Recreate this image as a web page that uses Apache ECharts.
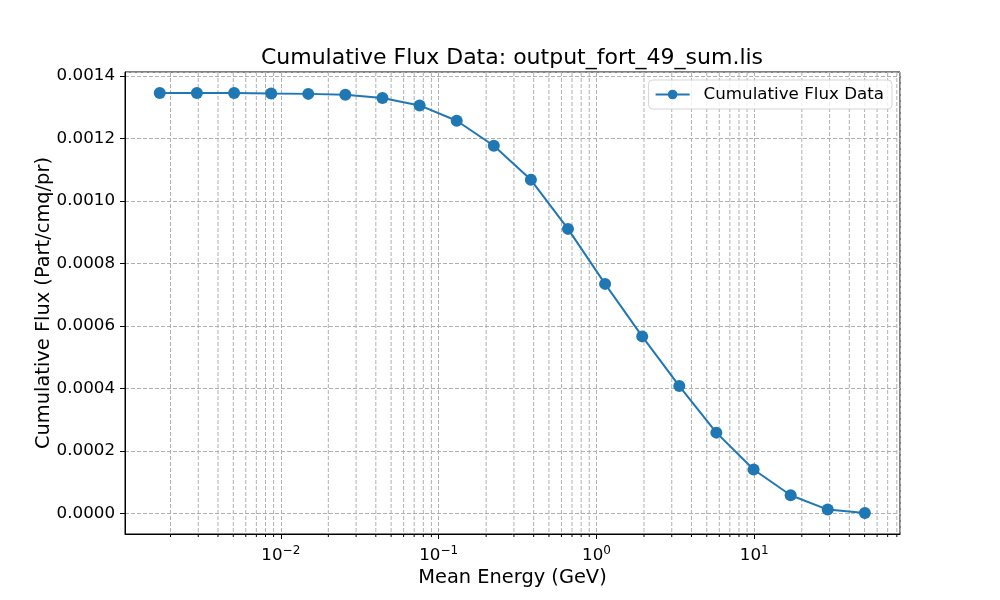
<!DOCTYPE html>
<html>
<head>
<meta charset="utf-8">
<script src="https://cdn.jsdelivr.net/npm/echarts@6/dist/echarts.min.js"></script>
<style>
  html, body { margin: 0; padding: 0; background: #fff; }
  #chart { width: 1000px; height: 600px; }
</style>
</head>
<body>
<div id="chart"></div>
<script>
// mean energy of each bin (GeV)
const energy = [0.00171, 0.00294, 0.00506, 0.00869, 0.01493, 0.02564, 0.04405, 0.0758,
  0.1302, 0.2237, 0.3843, 0.660, 1.134, 1.949, 3.35, 5.75, 9.90, 17.0, 29.2, 50.2];
// cumulative flux (Part/cmq/pr)
const flux = [0.001346, 0.001346, 0.001346, 0.001344, 0.001343, 0.001340, 0.001330, 0.001306,
  0.001257, 0.001177, 0.001068, 0.000911, 0.000735, 0.000567, 0.000408, 0.000259,
  0.000141, 0.0000585, 0.0000128, 0.0000018];

const decades = [0.001, 0.01, 0.1, 1, 10];
const minorSteps = [2, 3, 4, 5, 6, 7, 8, 9];

const xMin = 0.00103, xMax = 83.8;
const yMin = -0.0000654, yMax = 0.001413;

const minorTicks = [];
decades.forEach(d => minorSteps.forEach(m => {
  const v = d * m;
  if (v > xMin && v < xMax) minorTicks.push([v, 0]);
}));

const FONT = 'DejaVu Sans';
const gridColor = '#b0b0b0';

const chart = echarts.init(document.getElementById('chart'));

const supStr = n => String(n).replace('-', '\u2212');

const option = {
  backgroundColor: '#fff',
  animation: false,
  textStyle: { fontFamily: FONT },
  title: {
    text: 'Cumulative Flux Data: output_fort_49_sum.lis',
    left: 512,
    textAlign: 'center',
    top: 47,
    padding: 0,
    textStyle: { fontFamily: FONT, fontSize: 22, fontWeight: 'normal', color: '#000' }
  },
  legend: {
    data: ['Cumulative Flux Data'],
    right: 108,
    top: 80,
    padding: [6, 8, 6, 6],
    itemWidth: 34,
    itemHeight: 12,
    backgroundColor: 'rgba(255,255,255,0.8)',
    borderColor: '#d5d5d5',
    borderWidth: 1,
    borderRadius: 4,
    textStyle: { fontFamily: FONT, fontSize: 16.7, color: '#000', padding: [0, 0, 0, 9] }
  },
  grid: {
    left: 125, right: 100, top: 72, bottom: 66,
    containLabel: false,
    outerBoundsMode: 'none',
    show: true, borderColor: '#000', borderWidth: 1, backgroundColor: 'transparent'
  },
  xAxis: {
    type: 'log',
    logBase: 10,
    min: xMin,
    max: xMax,
    name: 'Mean Energy (GeV)',
    nameLocation: 'middle',
    nameGap: 34,
    nameTextStyle: { fontFamily: FONT, fontSize: 19.4, color: '#000' },
    axisLine: { onZero: false, lineStyle: { color: '#000', width: 1 } },
    axisTick: { inside: false, length: 5, lineStyle: { color: '#000' } },
    axisLabel: {
      showMinLabel: false,
      showMaxLabel: false,
      color: '#000',
      margin: 11,
      formatter: v => '10{sup|' + supStr(Math.round(Math.log10(v))) + '}',
      rich: {
        sup: { fontFamily: FONT, fontSize: 12, padding: [0, 0, 9, 0], color: '#000' }
      },
      fontSize: 16.7,
      fontFamily: FONT
    },
    splitLine: { show: true, lineStyle: { color: gridColor, width: 1, type: [4, 2] } },
    minorTick: { show: false },
    minorSplitLine: { show: false }
  },
  yAxis: {
    type: 'value',
    min: yMin,
    max: yMax,
    splitNumber: 7,
    name: 'Cumulative Flux (Part/cmq/pr)',
    nameLocation: 'middle',
    nameGap: 72,
    nameMoveOverlap: false,
    nameTextStyle: { fontFamily: FONT, fontSize: 19.4, color: '#000' },
    axisLine: { show: true, onZero: false, lineStyle: { color: '#000', width: 1 } },
    axisTick: { show: true, length: 5, lineStyle: { color: '#000' } },
    axisLabel: {
      showMinLabel: false,
      showMaxLabel: false,
      color: '#000',
      fontFamily: FONT,
      fontSize: 16.7,
      margin: 10,
      formatter: v => v.toFixed(4)
    },
    splitLine: { show: true, lineStyle: { color: gridColor, width: 1, type: [4, 2] } }
  },
  series: [
    {
      name: 'minor',
      type: 'custom',
      silent: true,
      z: 1,
      data: minorTicks,
      encode: { x: 0, y: 1 },
      renderItem: (params, api) => {
        const x = api.coord([api.value(0), 0])[0];
        const cs = params.coordSys;
        return {
          type: 'group',
          children: [
            {
              type: 'line',
              shape: { x1: x, y1: cs.y, x2: x, y2: cs.y + cs.height },
              style: { stroke: gridColor, lineWidth: 1, lineDash: [4, 2] }
            },
            {
              type: 'line',
              shape: { x1: x, y1: cs.y + cs.height, x2: x, y2: cs.y + cs.height + 3 },
              style: { stroke: '#000', lineWidth: 1 }
            }
          ]
        };
      }
    },
    {
      name: 'Cumulative Flux Data',
      type: 'line',
      z: 3,
      data: energy.map((e, i) => [e, flux[i]]),
      symbol: 'circle',
      symbolSize: 12,
      showAllSymbol: true,
      itemStyle: { color: '#1f77b4' },
      lineStyle: { color: '#1f77b4', width: 2 }
    }
  ]
};

chart.setOption(option);
</script>
</body>
</html>
